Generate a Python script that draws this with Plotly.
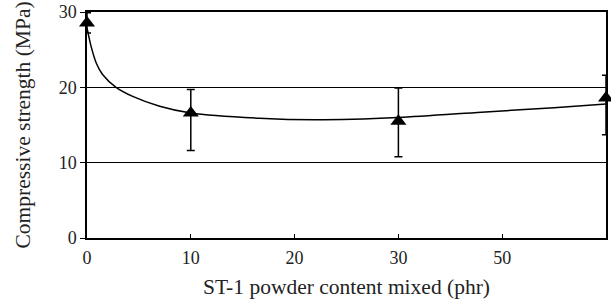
import plotly.graph_objects as go

# Data
x_points = [0, 10, 30, 50]
y_points = [28.55, 16.6, 15.5, 18.6]
err_plus = [1.35, 3.1, 4.4, 3.0]
err_minus = [1.35, 5.0, 4.7, 4.9]

curve_x = [0, 0.4, 0.9, 1.5, 2.8, 4.4, 7, 10, 16.6, 22, 30, 38, 45, 50]
curve_y = [27.9, 25.4, 23.2, 21.7, 20.0, 18.8, 17.5, 16.6, 15.9, 15.7, 16.0, 16.7, 17.3, 17.8]

tick_vals = [0, 10, 20, 30, 40]
tick_text = ["0", "10", "20", "30", "50"]
y_ticks = [0, 10, 20, 30]

FONT = "Liberation Serif"
TXT = "#222"

fig = go.Figure()
fig.add_trace(go.Scatter(
    x=curve_x, y=curve_y, mode="lines",
    line=dict(color="black", width=1.5, shape="spline", smoothing=0.8),
    hoverinfo="skip", showlegend=False, cliponaxis=False,
))
fig.add_trace(go.Scatter(
    x=x_points, y=y_points, mode="markers",
    marker=dict(symbol="triangle-up", size=14, color="black"),
    error_y=dict(type="data", symmetric=False, array=err_plus, arrayminus=err_minus,
                 color="black", thickness=1.5, width=4),
    showlegend=False, cliponaxis=False,
))

fig.update_layout(
    width=611, height=300,
    margin=dict(l=87, r=5, t=12, b=62),
    paper_bgcolor="white", plot_bgcolor="white",
    font=dict(family=FONT, color=TXT, size=18),
)
fig.update_xaxes(
    range=[0, 50], tickvals=tick_vals, ticktext=tick_text,
    showgrid=False, zeroline=False, automargin=False,
    showline=True, linecolor="black", linewidth=1.5, mirror=True,
    ticks="inside", ticklen=4, tickcolor="black", tickwidth=1,
    ticklabelstandoff=3,
    tickfont=dict(family=FONT, size=18, color=TXT),
    title=dict(text="ST-1 powder content mixed (phr)", font=dict(family=FONT, size=21.5, color=TXT), standoff=12),
)
fig.update_yaxes(
    range=[0, 30], tickvals=y_ticks,
    showgrid=True, gridcolor="black", gridwidth=1, zeroline=False, automargin=False,
    showline=True, linecolor="black", linewidth=1.5, mirror=True,
    ticks="outside", ticklen=5, tickcolor="black", tickwidth=1,
    tickfont=dict(family=FONT, size=18, color=TXT),
    title=dict(text="Compressive strength (MPa)", font=dict(family=FONT, size=21.5, color=TXT), standoff=22),
)

# remove the default 8px page margin so the figure sits at the window's corner
fig.write_html("out.html", config={"displayModeBar": False},
               post_script="document.body.style.margin='0';")
